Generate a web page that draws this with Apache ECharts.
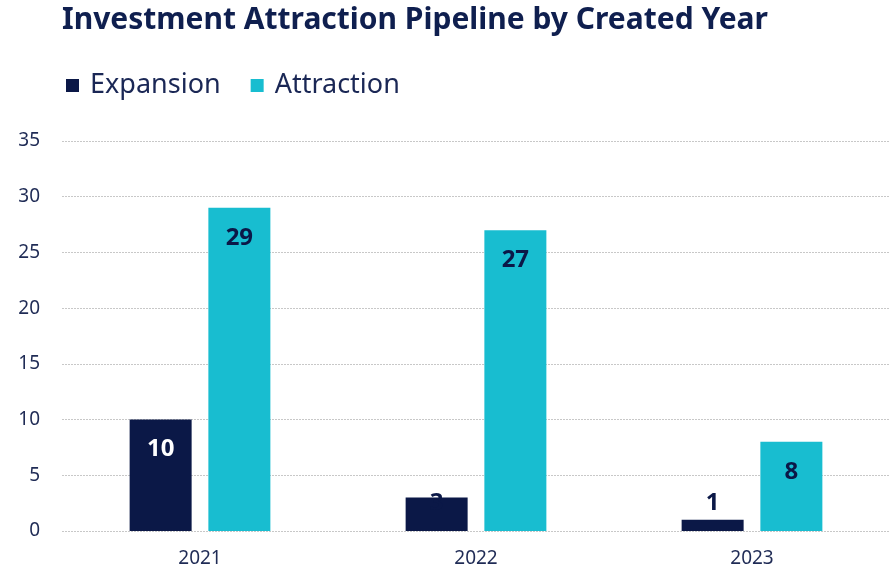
<!DOCTYPE html>
<html><head><meta charset="utf-8">
<script src="https://cdn.jsdelivr.net/npm/echarts@6/dist/echarts.min.js"></script>
<style>html,body{margin:0;padding:0;background:#fff}#c{width:892px;height:573px}</style>
</head><body><div id="c"></div>
<script>
const categories = ['2021', '2022', '2023'];
const expansion = [10, 3, 1];
const attraction = [29, 27, 8];
const yTicks = [0, 5, 10, 15, 20, 25, 30, 35];

const NAVY = '#0b1847';
const CYAN = '#18bdd0';
const FONT = '"Noto Sans", "Open Sans", sans-serif';

const chart = echarts.init(document.getElementById('c'));
const expLabels = [
  {position: 'insideTop', color: '#ffffff'},
  {position: 'insideTop', color: NAVY, distance: -6},
  {position: 'top', color: NAVY, distance: 5}
];
chart.setOption({
  animation: false,
  title: {
    text: 'Investment Attraction Pipeline by Created Year',
    left: 57, top: 0,
    textStyle: {fontFamily: FONT, fontWeight: 'bold', fontSize: 30, color: '#0f1f4f'}
  },
  legend: {
    left: 61, top: 67,
    itemWidth: 13, itemHeight: 13, itemGap: 30,
    icon: 'rect',
    textStyle: {fontFamily: FONT, fontSize: 27, color: '#1a2755', padding: [0, 0, 0, 6]},
    data: ['Expansion', 'Attraction']
  },
  grid: {left: 62, right: 2, top: 141, bottom: 42, containLabel: false},
  xAxis: {
    type: 'category', data: categories,
    axisLine: {show: false}, axisTick: {show: false},
    axisLabel: {fontFamily: FONT, fontSize: 19, color: '#1f2b55', margin: 18}
  },
  yAxis: {
    type: 'value', min: 0, max: 35, interval: 5,
    axisLabel: {fontFamily: FONT, fontSize: 19, color: '#1f2b55', margin: 22,
      formatter: v => yTicks.includes(v) ? String(v) : ''},
    splitLine: {lineStyle: {color: '#c8c8c8', type: [2, 1], width: 1.2}},
    axisLine: {show: false}, axisTick: {show: false}
  },
  series: [
    {
      name: 'Expansion', type: 'bar', barWidth: 62, barGap: '27%',
      itemStyle: {color: NAVY},
      data: expansion.map((v, i) => ({value: v, label: expLabels[i]})),
      label: {show: true, fontFamily: FONT, fontWeight: 'bold', fontSize: 24, distance: 18}
    },
    {
      name: 'Attraction', type: 'bar', barWidth: 62,
      itemStyle: {color: CYAN},
      data: attraction,
      label: {show: true, position: 'insideTop', fontFamily: FONT, fontWeight: 'bold', fontSize: 24, color: NAVY, distance: 18}
    }
  ]
});
</script></body></html>
